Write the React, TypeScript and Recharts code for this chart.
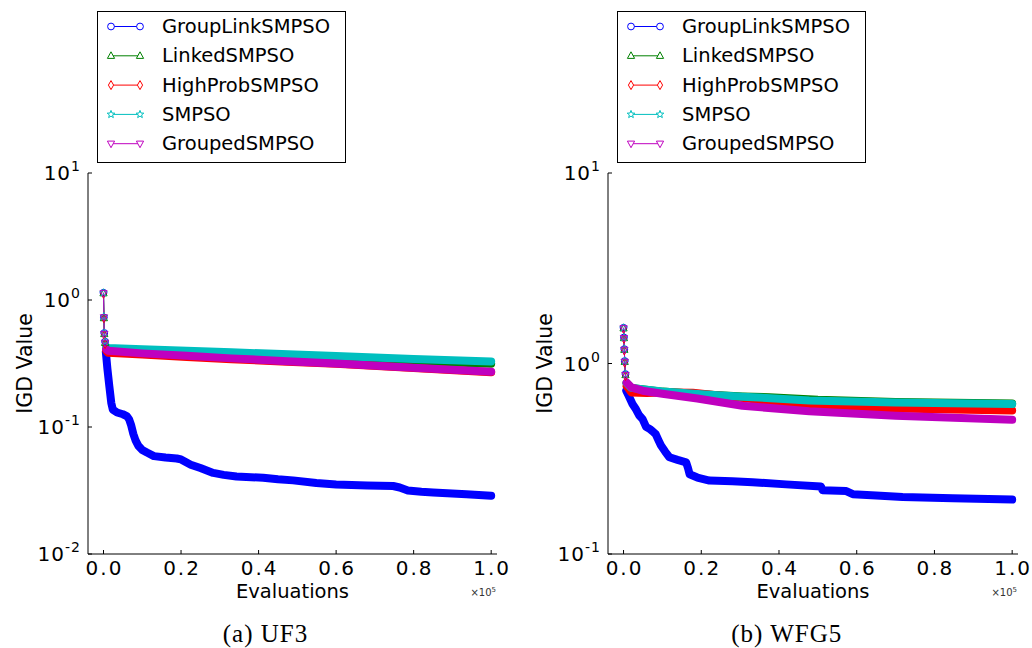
import React from "react";
import { Line, LineChart, XAxis, YAxis } from "recharts";

type Pt = [number, number]; // [evaluations ×1e5, IGD value]

const SERIES_NAMES = ["GroupLinkSMPSO", "LinkedSMPSO", "HighProbSMPSO", "SMPSO", "GroupedSMPSO"];
const SERIES_COLORS = ["#0000ff", "#008000", "#ff0000", "#00bfbf", "#bf00bf"];
const SERIES_MARKERS = ["circle", "triangleUp", "diamond", "star", "triangleDown"];

const X_TICKS = [0, 0.2, 0.4, 0.6, 0.8, 1.0];
const X_DOMAIN = [-0.04, 1.015];

const UF3_MAJOR = [0.01, 0.1, 1, 10];
const UF3_MINOR = [
  0.02, 0.03, 0.04, 0.05, 0.06, 0.07, 0.08, 0.09,
  0.2, 0.3, 0.4, 0.5, 0.6, 0.7, 0.8, 0.9,
  2, 3, 4, 5, 6, 7, 8, 9,
];
const WFG5_MAJOR = [0.1, 1, 10];
const WFG5_MINOR = [0.2, 0.3, 0.4, 0.5, 0.6, 0.7, 0.8, 0.9, 2, 3, 4, 5, 6, 7, 8, 9];

// (a) UF3
const uf3GroupLink: Pt[] = [
  [0, 1.14], [0.001, 0.73], [0.002, 0.55], [0.004, 0.47], [0.006, 0.39], [0.01, 0.288],
  [0.015, 0.21], [0.02, 0.155], [0.024, 0.137], [0.035, 0.13], [0.05, 0.126], [0.06, 0.122],
  [0.066, 0.115], [0.071, 0.104], [0.077, 0.088], [0.083, 0.078], [0.09, 0.071], [0.1, 0.066],
  [0.112, 0.063], [0.13, 0.059], [0.16, 0.0575], [0.189, 0.0565], [0.2, 0.0555], [0.212, 0.053],
  [0.225, 0.0505], [0.25, 0.0475], [0.283, 0.0435], [0.31, 0.042], [0.343, 0.0407], [0.412, 0.0399],
  [0.45, 0.0388], [0.489, 0.038], [0.549, 0.0362], [0.6, 0.0352], [0.68, 0.0346], [0.747, 0.0343],
  [0.764, 0.0334], [0.785, 0.0316], [0.82, 0.0309], [0.85, 0.0305], [0.936, 0.0295], [1.0, 0.0287],
];
const uf3Linked: Pt[] = [
  [0, 1.13], [0.001, 0.72], [0.002, 0.54], [0.004, 0.46], [0.007, 0.41], [0.012, 0.4],
  [0.1, 0.39], [0.2, 0.38], [0.33, 0.368], [0.47, 0.355], [0.6, 0.345], [0.8, 0.33], [1.0, 0.315],
];
const uf3HighProb: Pt[] = [
  [0, 1.12], [0.001, 0.72], [0.002, 0.53], [0.004, 0.45], [0.007, 0.4], [0.012, 0.384],
  [0.1, 0.372], [0.215, 0.356], [0.33, 0.342], [0.473, 0.327], [0.6, 0.315], [0.8, 0.292], [1.0, 0.27],
];
const uf3Smpso: Pt[] = [
  [0, 1.14], [0.001, 0.74], [0.002, 0.55], [0.004, 0.47], [0.007, 0.43], [0.012, 0.418],
  [0.1, 0.41], [0.215, 0.398], [0.33, 0.387], [0.46, 0.376], [0.6, 0.362], [0.8, 0.343], [1.0, 0.328],
];
const uf3Grouped: Pt[] = [
  [0, 1.13], [0.001, 0.73], [0.002, 0.54], [0.004, 0.46], [0.007, 0.41], [0.012, 0.398],
  [0.1, 0.38], [0.215, 0.364], [0.33, 0.347], [0.473, 0.33], [0.6, 0.316], [0.8, 0.293], [1.0, 0.272],
];

// (b) WFG5
const wfgGroupLink: Pt[] = [
  [0, 1.54], [0.001, 1.37], [0.002, 1.19], [0.003, 1.03], [0.005, 0.88], [0.007, 0.72],
  [0.012, 0.685], [0.023, 0.613], [0.032, 0.575], [0.04, 0.535], [0.049, 0.51], [0.058, 0.465],
  [0.068, 0.452], [0.075, 0.44], [0.083, 0.425], [0.09, 0.395], [0.096, 0.372], [0.107, 0.345],
  [0.118, 0.322], [0.139, 0.312], [0.161, 0.303], [0.166, 0.282], [0.17, 0.262], [0.19, 0.252],
  [0.221, 0.243], [0.28, 0.241], [0.332, 0.238], [0.418, 0.232], [0.508, 0.226], [0.512, 0.216],
  [0.573, 0.214], [0.59, 0.206], [0.65, 0.203], [0.718, 0.199], [0.847, 0.196], [1.0, 0.193],
];
const wfgLinked: Pt[] = [
  [0, 1.53], [0.001, 1.36], [0.002, 1.18], [0.003, 1.02], [0.005, 0.87], [0.008, 0.79],
  [0.02, 0.745], [0.1, 0.712], [0.2, 0.69], [0.306, 0.672], [0.375, 0.665], [0.5, 0.645],
  [0.7, 0.628], [1.0, 0.616],
];
const wfgHighProb: Pt[] = [
  [0, 1.52], [0.001, 1.35], [0.002, 1.17], [0.003, 1.01], [0.005, 0.86], [0.008, 0.76],
  [0.02, 0.705], [0.06, 0.7], [0.1, 0.705], [0.178, 0.702], [0.306, 0.659], [0.478, 0.6],
  [0.7, 0.58], [1.0, 0.567],
];
const wfgSmpso: Pt[] = [
  [0, 1.54], [0.001, 1.37], [0.002, 1.19], [0.003, 1.03], [0.005, 0.88], [0.008, 0.79],
  [0.02, 0.745], [0.1, 0.713], [0.2, 0.69], [0.306, 0.67], [0.478, 0.64], [0.7, 0.625], [1.0, 0.612],
];
const wfgGrouped: Pt[] = [
  [0, 1.53], [0.001, 1.36], [0.002, 1.18], [0.003, 1.02], [0.005, 0.87], [0.008, 0.795],
  [0.02, 0.75], [0.049, 0.72], [0.1, 0.694], [0.19, 0.655], [0.306, 0.6], [0.478, 0.561],
  [0.7, 0.532], [1.0, 0.506],
];

const SANS = "'DejaVu Sans', sans-serif";
const BAND_START = 0.006; // dense marker region drawn as a thick band

function toRows(pts: Pt[]) {
  return pts.map(([e, v]) => ({ e, v }));
}

function Marker({ kind, cx, cy, color, fill }: any) {
  if (cx == null || cy == null) return null;
  const common = { stroke: color, strokeWidth: 1, fill };
  if (kind === "circle") return <circle cx={cx} cy={cy} r={3.4} {...common} />;
  if (kind === "triangleUp")
    return <polygon points={`${cx},${cy - 4} ${cx + 3.6},${cy + 2.6} ${cx - 3.6},${cy + 2.6}`} {...common} />;
  if (kind === "triangleDown")
    return <polygon points={`${cx},${cy + 4} ${cx + 3.6},${cy - 2.6} ${cx - 3.6},${cy - 2.6}`} {...common} />;
  if (kind === "diamond")
    return <polygon points={`${cx},${cy - 4.5} ${cx + 2.6},${cy} ${cx},${cy + 4.5} ${cx - 2.6},${cy}`} {...common} />;
  // star
  const pts: string[] = [];
  for (let k = 0; k < 10; k++) {
    const r = k % 2 === 0 ? 4 : 1.7;
    const a = -Math.PI / 2 + (k * Math.PI) / 5;
    pts.push(`${cx + r * Math.cos(a)},${cy + r * Math.sin(a)}`);
  }
  return <polygon points={pts.join(" ")} {...common} />;
}

function YTick({ x, y, payload }: any) {
  const exp = Math.round(Math.log10(payload.value));
  return (
    <text x={x} y={y + 7} textAnchor="end" fontFamily={SANS} fontSize={20} fill="#000" letterSpacing={1}>
      10
      <tspan dy={-9} fontSize={14}>
        {exp}
      </tspan>
    </text>
  );
}

function XTick({ x, y, payload }: any) {
  return (
    <text x={x + 1} y={y + 15} textAnchor="middle" fontFamily={SANS} fontSize={20} fill="#000" letterSpacing={2}>
      {payload.value.toFixed(1)}
    </text>
  );
}

function LegendBox({ left }: { left: number }) {
  return (
    <div
      style={{
        position: "absolute",
        left,
        top: 11,
        width: 247,
        height: 150,
        border: "1px solid #000",
        background: "#fff",
      }}
    >
      <svg width={247} height={150}>
        {SERIES_NAMES.map((name, i) => {
          const y = 14.5 + i * 29.3;
          const color = SERIES_COLORS[i];
          return (
            <g key={name}>
              <line x1={13} x2={42} y1={y} y2={y} stroke={color} strokeWidth={1} />
              <Marker kind={SERIES_MARKERS[i]} cx={13} cy={y} color={color} fill="#fff" />
              <Marker kind={SERIES_MARKERS[i]} cx={42} cy={y} color={color} fill="#fff" />
              <text x={64} y={y} dominantBaseline="central" fontFamily={SANS} fontSize={19.5} fill="#000">
                {name}
              </text>
            </g>
          );
        })}
      </svg>
    </div>
  );
}

function Panel({
  left,
  width,
  rightMargin,
  series,
  yDomain,
  major,
  minor,
}: {
  left: number;
  width: number;
  rightMargin: number;
  series: Pt[][];
  yDomain: number[];
  major: number[];
  minor: number[];
}) {
  const axisCommon = {
    type: "number" as const,
    scale: "log" as const,
    domain: yDomain,
    allowDataOverflow: true,
    interval: 0 as const,
  };
  const xCommon = {
    type: "number" as const,
    dataKey: "e",
    domain: X_DOMAIN,
    allowDataOverflow: true,
    ticks: X_TICKS,
    interval: 0 as const,
  };
  return (
    <div style={{ position: "absolute", left, top: 0, width, height: 648 }}>
      <LineChart width={width} height={648} margin={{ top: 173, right: rightMargin, bottom: 64, left: 0 }}>
        <XAxis
          {...xCommon}
          xAxisId="x"
          orientation="bottom"
          height={30}
          stroke="#000"
          axisLine={{ stroke: "#000" }}
          tickLine={{ stroke: "#000" }}
          tickSize={-4}
          tickMargin={10}
          tick={<XTick />}
          label={(p: any) => {
            const vb = p.viewBox || {};
            const cx = vb.x + vb.width / 2;
            return (
              <g>
                <text x={cx} y={vb.y + 44} textAnchor="middle" fontFamily={SANS} fontSize={19.5} fill="#000">
                  Evaluations
                </text>
                <text x={vb.x + vb.width - 1} y={vb.y + 42} textAnchor="end" fontFamily={SANS} fontSize={10} fill="#333">
                  ×10
                  <tspan dy={-4} fontSize={7}>
                    5
                  </tspan>
                </text>
              </g>
            );
          }}
        />
        <XAxis
          {...xCommon}
          xAxisId="top"
          orientation="top"
          mirror
          height={0}
          axisLine={{ stroke: "#000" }}
          tickLine={{ stroke: "#000" }}
          tickSize={4}
          tick={false}
        />
        <YAxis
          {...axisCommon}
          yAxisId="y"
          orientation="left"
          width={88}
          ticks={major}
          axisLine={{ stroke: "#000" }}
          tickLine={{ stroke: "#000" }}
          tickSize={-4}
          tickMargin={11}
          tick={<YTick />}
          label={(p: any) => {
            const vb = p.viewBox || {};
            const cy = vb.y + vb.height / 2;
            return (
              <text
                x={31.5}
                y={cy}
                transform={`rotate(-90 31.5 ${cy})`}
                textAnchor="middle"
                fontFamily={SANS}
                fontSize={20.5}
                fill="#000"
              >
                IGD Value
              </text>
            );
          }}
        />
        <YAxis
          {...axisCommon}
          yAxisId="minL"
          orientation="left"
          mirror
          width={0}
          ticks={minor}
          axisLine={false}
          tickLine={{ stroke: "#000" }}
          tickSize={2}
          tick={false}
        />
        <YAxis
          {...axisCommon}
          yAxisId="majR"
          orientation="right"
          mirror
          width={0}
          ticks={major}
          axisLine={{ stroke: "#000" }}
          tickLine={{ stroke: "#000" }}
          tickSize={4}
          tick={false}
        />
        <YAxis
          {...axisCommon}
          yAxisId="minR"
          orientation="right"
          mirror
          width={0}
          ticks={minor}
          axisLine={false}
          tickLine={{ stroke: "#000" }}
          tickSize={2}
          tick={false}
        />
        {series.map((pts, i) => {
          const rows = toRows(pts);
          const band = rows.filter((r) => r.e >= BAND_START);
          const color = SERIES_COLORS[i];
          return (
            <React.Fragment key={SERIES_NAMES[i]}>
              <Line
                data={band}
                dataKey="v"
                xAxisId="x"
                yAxisId="y"
                type="linear"
                stroke={color}
                strokeWidth={8}
                strokeLinejoin="round"
                strokeLinecap="round"
                dot={false}
                activeDot={false}
                legendType="none"
                isAnimationActive={false}
              />
              <Line
                data={rows}
                dataKey="v"
                name={SERIES_NAMES[i]}
                xAxisId="x"
                yAxisId="y"
                type="linear"
                stroke={color}
                strokeWidth={1}
                dot={(p: any) =>
                  p.payload && p.payload.e < BAND_START ? (
                    <Marker
                      key={`m${i}-${p.index}`}
                      kind={SERIES_MARKERS[i]}
                      cx={p.cx}
                      cy={p.cy}
                      color={color}
                      fill="none"
                    />
                  ) : (
                    <g key={`m${i}-${p.index}`} />
                  )
                }
                activeDot={false}
                isAnimationActive={false}
              />
            </React.Fragment>
          );
        })}
      </LineChart>
      <LegendBox left={97} />
    </div>
  );
}

export default function App() {
  return (
    <div
      style={{
        position: "absolute",
        left: 0,
        top: 0,
        width: 1032,
        height: 648,
        background: "#fff",
        overflow: "hidden",
      }}
    >
      <Panel
        left={0}
        width={520}
        rightMargin={23}
        series={[uf3GroupLink, uf3Linked, uf3HighProb, uf3Smpso, uf3Grouped]}
        yDomain={[0.01, 10]}
        major={UF3_MAJOR}
        minor={UF3_MINOR}
      />
      <Panel
        left={520}
        width={512}
        rightMargin={14}
        series={[wfgGroupLink, wfgLinked, wfgHighProb, wfgSmpso, wfgGrouped]}
        yDomain={[0.1, 10]}
        major={WFG5_MAJOR}
        minor={WFG5_MINOR}
      />
      <svg width={1032} height={648} style={{ position: "absolute", left: 0, top: 0, pointerEvents: "none" }}>
        <text x={265.5} y={642} textAnchor="middle" fontFamily="'Liberation Serif', serif" fontSize={25} letterSpacing={1} fill="#000">
          (a) UF3
        </text>
        <text x={786.7} y={642} textAnchor="middle" fontFamily="'Liberation Serif', serif" fontSize={25} letterSpacing={1} fill="#000">
          (b) WFG5
        </text>
      </svg>
    </div>
  );
}
